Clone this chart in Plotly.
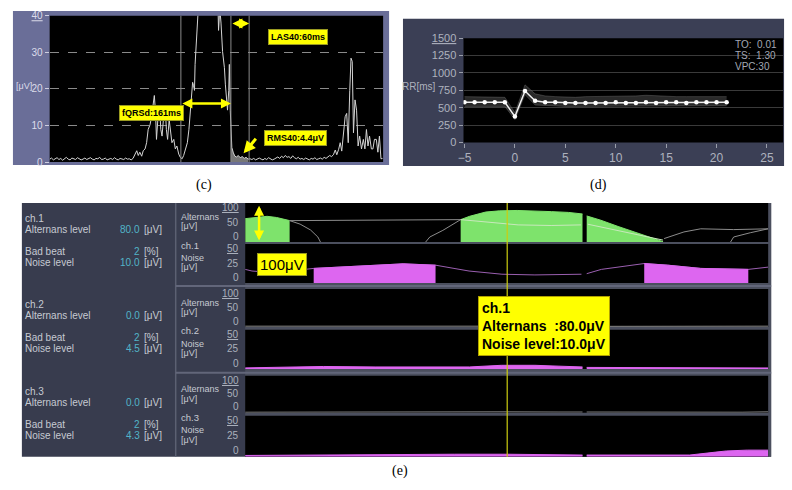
import plotly.graph_objects as go

W, H = 792, 490
def fx(p): return p / W
def fy(p): return 1 - p / H

# ---------------- (c) signal-averaged ECG vector magnitude ----------------
base1_ms = list(range(0, 271, 6))
base1_uv = [0.8,1.1,0.6,0.9,1.2,0.7,1.0,0.5,0.9,1.3,0.8,0.6,1.1,0.9,0.7,1.2,1.0,0.6,0.8,1.1,0.7,0.9,1.2,0.8,0.6,
            1.0,0.9,1.3,0.7,0.8,1.1,0.6,0.9,1.0,0.7,1.2,0.8,0.6,1.0,0.9,0.7,1.1,0.8,0.9,0.6,1.0]
qrs_ms = [276,282,287,292,298,303,309,314,319,325,330,335,339,343,346,351,356,360,364,370,374,378,382,387,391,396,
          402,407,412,418,423,429,434,439,446,451,455,460,463,466,469,471,474,476,485,501,517,534,544,547,551,555,
          560,566,569,573,576,580,582,585,587,590,595,600,605,611,617,624,630,636,643,649]
qrs_uv = [2.2,3.1,1.8,2.7,1.6,3.1,3.6,5.3,8.9,10.2,12.4,16.0,18.2,13.3,6.2,12.4,15.1,8.9,7.1,13.3,15.6,8.9,6.2,11.6,
          8.9,5.3,6.2,3.6,4.4,2.2,1.3,0.9,1.8,3.1,5.3,8.9,14.2,20.4,21.8,20.9,19.6,26.7,34.7,41,60,85,95,80,50,36,
          42,38,30.2,25.8,21.3,17.8,14.2,19.6,26.7,14,8,4,2.5,1.6,1.4,1.8,1.2,1.5,1.0,1.3,0.8,0.9]
base2_ms = list(range(655, 914, 6))
base2_uv = [0.7,1.0,0.6,0.9,1.1,0.8,0.6,1.0,0.7,1.2,0.9,0.6,0.8,1.1,1.4,1.0,1.6,1.2,1.8,1.3,1.5,1.0,1.7,1.2,0.9,
            1.3,0.8,1.0,0.7,1.1,0.9,0.6,1.0,0.8,1.2,0.7,0.9,1.1,0.8,1.3,1.0,1.4,1.8,1.5]
tail_ms = [919,925,930,936,941,946,951,957,962,967,972,976,980,984,989,994,999,1004,1010,1016,1021,1026,1031,1036,
           1042,1047,1052,1058,1063,1068,1073,1078]
tail_uv = [2.0,3.3,2.0,3.5,5.3,3.0,8.0,12.4,13.3,5.3,19.6,28.4,27.5,8.0,17.0,14.2,4.4,7.1,3.6,6.2,3.6,8.9,4.4,7.1,
           3.6,3.6,6.2,6.2,2.7,7.1,0.9,1.0]
ecg_ms = base1_ms + qrs_ms + base2_ms + tail_ms
ecg_uv = base1_uv + qrs_uv + base2_uv + tail_uv
qrs_on_ms, qrs_off_ms, las_start_ms = 425, 587, 646
c_yticks = [0, 10, 20, 30, 40]

# ---------------- (d) heart-rate turbulence RR ----------------
rr_beat = list(range(-5, 22))
rr_ms = [580,580,580,580,580,375,740,600,580,580,570,570,570,570,570,580,570,570,580,570,580,580,570,580,580,580,580]
rr_hi = [660,660,660,660,650,430,830,700,670,660,650,650,660,660,660,670,660,670,680,670,670,660,660,660,660,660,660]
rr_lo = [520,520,520,520,520,330,690,540,530,520,520,520,520,520,520,520,520,520,520,520,520,520,520,520,520,520,530]
d_xticks = [-5, 0, 5, 10, 15, 20, 25]
d_yticks = [0, 250, 500, 750, 1000, 1250, 1500]
hrt_text = ["TO:  0.01", "TS:  1.30", "VPC:30"]

# ---------------- (e) T-wave alternans trend ----------------
channels = ["ch.1", "ch.2", "ch.3"]
alt_levels = ["80.0", "0.0", "0.0"]
bad_beats = ["2", "2", "2"]
noise_levels = ["10.0", "4.5", "4.3"]
cursor_t = 50.1
marker_t = 2.66

ch1_alt_fill_t = [0, 2, 4.2, 6, 8.5, None, 41.2, 42.9, 46, 48.6, 52, 55.4, 58.6, 61.8, 64.5, None,
                  65.3, 68, 71.3, 74.4, 77, 79.9]
ch1_alt_fill_v = [60, 63, 66, 63, 55, None, 57.5, 66, 77, 80, 81, 80, 78, 76, 72, None,
                  67, 56, 40, 26, 14, 1]
ch1_alt_flat_t = [8.5, 15, 20, 25, 30, 35, 41.2]
ch1_alt_flat_v = [55, 55.5, 56, 56.5, 57, 57.3, 57.5]
ch1_alt_desc_t = [8.5, 10.5, 12.5, 13.9, 14.4]
ch1_alt_desc_v = [55, 46, 31, 13, 0]
ch1_alt_rise_t = [34.5, 35.3, 37.8, 41.2]
ch1_alt_rise_v = [0, 13, 30, 57.5]
ch1_alt_in_t = [41.2, 46, 52.2, 58.5, 64.2, None, 65.5, 71.3, 79.9]
ch1_alt_in_v = [57.5, 51, 44, 42.5, 44, None, 45.8, 30, 5]
ch1_alt_after_t = [80.1, 83.9, 87.1, 93.4, 100]
ch1_alt_after_v = [9, 26, 34, 32, 34]
ch1_alt_after2_t = [92.8, 93.4, 96.6, 100]
ch1_alt_after2_v = [0, 13, 24, 34]

ch1_noise_t = [0, 1.3, 4, 8, 13.1, 17.5, 23.9, 30.2, 36.4, 42.8, 49.1, 55.4, 64.3, None, 65.3, 68.1, 76.3, 80.8,
               87.1, 96.2, 100]
ch1_noise_v = [17.5, 15.4, 14, 15, 18.75, 20.4, 22.5, 24.6, 22.9, 15.4, 11.3, 10.4, 11.3, None, 12, 17.5, 25, 22.9,
               18.75, 17.5, 20.4]
ch1_noise_fill_t = [13.1, 17.5, 23.9, 30.2, 36.4, None, 76.3, 80.8, 87.1, 96.2]
ch1_noise_fill_v = [18.75, 20.4, 22.5, 24.6, 22.9, None, 25, 22.9, 18.75, 17.5]

ch2_alt_t = [0, 10, 20, 30, 40, 50, 60, 64.5, None, 65.3, 75, 85, 100]
ch2_alt_v = [2, 2, 2, 2.5, 2, 2.5, 2, 2, None, 1.5, 1.5, 1, 2]
ch2_noise_t = [0, 9.3, 15, 25, 35, 42.9, 49, 55.4, 60, 64.5, None, 65.3, 75, 85, 100]
ch2_noise_v = [1.3, 2.5, 3.1, 2.5, 2.5, 2.5, 4.6, 4.6, 3.5, 2.5, None, 1.9, 1.5, 1.3, 1.2]
ch3_alt_t = [0, 10, 20, 25, 30, 40, 50, 60, 64.5, None, 65.3, 75, 85, 95, 100]
ch3_alt_v = [1.5, 2, 3, 2, 1.5, 2, 2.5, 2, 2, None, 2, 1.5, 1, 1.5, 2.5]
ch3_noise_t = [0, 10, 20, 30, 40, 50, 55, 60, 64.5, None, 65.3, 75, 85, 90, 92, 96, 100]
ch3_noise_v = [1.5, 2, 2, 2.5, 3, 3, 2.5, 2.5, 2, None, 2, 2, 2, 5.6, 7, 8, 8]

alt_ticks = [0, 50, 100]
noise_ticks = [0, 25, 50]

# ---------------- styling ----------------
APP_FONT = "Liberation Sans Narrow, Liberation Sans, sans-serif"
BOX_FONT = "Liberation Sans, Arial, sans-serif"
YEL = "#ffff00"
GREEN = "#7ee36c"
MAG = "#dd66f0"
LINE_GRAY = "#8c8c8c"
TXT = "#c6cad2"
TEAL = "#52b4c8"

def segments(xs, ys):
    segs, cx, cy = [], [], []
    for x, y in zip(xs, ys):
        if y is None:
            if cx:
                segs.append((cx, cy))
            cx, cy = [], []
        else:
            cx.append(x); cy.append(y)
    if cx:
        segs.append((cx, cy))
    return segs

fig = go.Figure()

# (c) traces
rms_t = [t for t in ecg_ms if qrs_off_ms <= t <= las_start_ms]
rms_v = [v for t, v in zip(ecg_ms, ecg_uv) if qrs_off_ms <= t <= las_start_ms]
fig.add_trace(go.Scatter(x=rms_t, y=rms_v, mode="lines", fill="tozeroy", fillcolor="#777777",
                         line=dict(color="#777777", width=0), xaxis="x", yaxis="y"))
fig.add_trace(go.Scatter(x=ecg_ms, y=ecg_uv, mode="lines", line=dict(color="#d4d4d4", width=1),
                         xaxis="x", yaxis="y"))

# (d) traces
fig.add_trace(go.Scatter(x=rr_beat, y=rr_hi, mode="lines", line=dict(color="rgba(120,120,120,0.5)", width=0.8),
                         xaxis="x2", yaxis="y2"))
fig.add_trace(go.Scatter(x=rr_beat, y=rr_lo, mode="lines", line=dict(color="rgba(120,120,120,0.5)", width=0.8),
                         fill="tonexty", fillcolor="rgba(90,90,90,0.45)", xaxis="x2", yaxis="y2"))
fig.add_trace(go.Scatter(x=rr_beat, y=rr_ms, mode="lines+markers", line=dict(color="#f0f0f0", width=1.5),
                         marker=dict(color="white", size=4.5), xaxis="x2", yaxis="y2"))

# (e) traces
rows = [("x3", "y3"), ("x4", "y4"), ("x5", "y5"), ("x6", "y6"), ("x7", "y7"), ("x8", "y8")]
def add_fill(xs, ys, color, ax):
    for sx, sy in segments(xs, ys):
        fig.add_trace(go.Scatter(x=sx, y=sy, mode="lines", fill="tozeroy", fillcolor=color,
                                 line=dict(color=color, width=1), xaxis=ax[0], yaxis=ax[1]))
def add_line(xs, ys, color, ax, w=1):
    fig.add_trace(go.Scatter(x=xs, y=ys, mode="lines", line=dict(color=color, width=w),
                             connectgaps=False, xaxis=ax[0], yaxis=ax[1]))

add_fill(ch1_alt_fill_t, ch1_alt_fill_v, GREEN, rows[0])
add_line(ch1_alt_flat_t, ch1_alt_flat_v, LINE_GRAY, rows[0])
add_line(ch1_alt_desc_t, ch1_alt_desc_v, LINE_GRAY, rows[0])
add_line(ch1_alt_rise_t, ch1_alt_rise_v, LINE_GRAY, rows[0])
add_line(ch1_alt_in_t, ch1_alt_in_v, "#c8e8bc", rows[0])
add_line(ch1_alt_after_t, ch1_alt_after_v, LINE_GRAY, rows[0])
add_line(ch1_alt_after2_t, ch1_alt_after2_v, LINE_GRAY, rows[0])
add_line(ch1_noise_t, ch1_noise_v, "#9a5fb0", rows[1])
add_fill(ch1_noise_fill_t, ch1_noise_fill_v, MAG, rows[1])
add_line(ch2_alt_t, ch2_alt_v, LINE_GRAY, rows[2])
add_fill(ch2_noise_t, ch2_noise_v, MAG, rows[3])
add_line(ch3_alt_t, ch3_alt_v, LINE_GRAY, rows[4])
add_fill(ch3_noise_t, ch3_noise_v, MAG, rows[5])

# ---------------- layout ----------------
shapes = []
def rect(x0, y0, x1, y1, color):
    shapes.append(dict(type="rect", xref="paper", yref="paper", x0=fx(x0), x1=fx(x1), y0=fy(y1), y1=fy(y0),
                       fillcolor=color, line=dict(width=0), layer="below"))
def pline(x0, y0, x1, y1, color, w=1):
    shapes.append(dict(type="line", xref="paper", yref="paper", x0=fx(x0), x1=fx(x1), y0=fy(y0), y1=fy(y1),
                       line=dict(color=color, width=w), layer="below"))

# panel backgrounds
rect(7, 5, 386, 163, "#6a6e98")
rect(400, 13, 784, 164, "#3b3f55")
rect(16, 202, 771, 462, "#383c4e")
rect(241, 202, 771, 462, "#4b4f5e")

c_dom = (44, 10, 380, 160)
d_dom = (461, 33, 783, 140)
e_rows_px = [(202, 242), (244, 284), (290, 329), (332, 372), (379, 417), (420, 462)]
e_x = (241, 768)
rect(*c_dom, "black")
rect(*d_dom, "black")
for top, bot in e_rows_px:
    rect(e_x[0], top, e_x[1], bot, "black")
pline(171, 202, 171, 462, "#5c6072", 1.5)
pline(171, 287, 771, 287, "#62667a", 2)
pline(171, 376, 771, 376, "#62667a", 2)

# (c) QRS markers
for m in [qrs_on_ms, qrs_off_ms, las_start_ms]:
    shapes.append(dict(type="line", xref="x", yref="y domain", x0=m, x1=m, y0=0, y1=1,
                       line=dict(color="#8a8a8a", width=1), layer="above"))
# (e) cursor
shapes.append(dict(type="line", xref="x3", yref="paper", x0=cursor_t, x1=cursor_t, y0=fy(462), y1=fy(202),
                   line=dict(color="#cccc10", width=1.2), layer="above"))

layout = dict(
    width=W, height=H, margin=dict(l=0, r=0, t=0, b=0), paper_bgcolor="white",
    plot_bgcolor="rgba(0,0,0,0)", showlegend=False, shapes=shapes,
    xaxis=dict(domain=[fx(c_dom[0]), fx(c_dom[2])], range=[0, 1080], visible=False, anchor="y"),
    yaxis=dict(domain=[fy(c_dom[3]), fy(c_dom[1])], range=[0, 40], anchor="x", tickvals=c_yticks,
               ticktext=[str(v) if v != 40 else "<u>40</u>" for v in c_yticks],
               ticks="outside", ticklen=4, tickcolor="#cfcfe0", tickfont=dict(size=10, color="#dcdcea", family=APP_FONT),
               showgrid=True, gridcolor="#8a8a8a", griddash="dash", gridwidth=1, zeroline=False, showline=False),
    xaxis2=dict(domain=[fx(d_dom[0]), fx(d_dom[2])], range=[-5.1, 26.6], anchor="y2", tickvals=d_xticks,
                ticks="outside", ticklen=4, tickcolor="#9a9eaa", tickfont=dict(size=12, color="#aeb2be", family=APP_FONT),
                showgrid=False, zeroline=False, showline=False),
    yaxis2=dict(domain=[fy(d_dom[3]), fy(d_dom[1])], range=[0, 1500], anchor="x2", tickvals=d_yticks,
                ticktext=[str(v) if v != 1500 else "<u>1500</u>" for v in d_yticks],
                ticks="outside", ticklen=4, tickcolor="#9a9eaa", tickfont=dict(size=11, color="#aeb2be", family=APP_FONT),
                showgrid=True, gridcolor="#3a3a3a", gridwidth=1, zeroline=False, showline=False),
)

ann = []
def text(x, y, s, size=10, color=TXT, xanchor="left", font=APP_FONT, **kw):
    ann.append(dict(xref="paper", yref="paper", x=fx(x), y=fy(y), text=s, showarrow=False, xanchor=xanchor,
                    yanchor="middle", font=dict(size=size, color=color, family=font), **kw))
def box(x, y, s, size=9, bold=True, **kw):
    ann.append(dict(xref="paper", yref="paper", x=fx(x), y=fy(y), text=("<b>%s</b>" % s) if bold else s,
                    showarrow=False, bgcolor=YEL, bordercolor="#9a9a20", borderwidth=1, borderpad=2,
                    font=dict(size=size, color="black", family=BOX_FONT), **kw))

for i, ((xa, ya), (top, bot)) in enumerate(zip(rows, e_rows_px)):
    n = xa[1:]
    is_alt = i % 2 == 0
    ticks = alt_ticks if is_alt else noise_ticks
    topv = ticks[-1]
    layout["xaxis" + n] = dict(domain=[fx(e_x[0]), fx(e_x[1])], range=[0, 100], visible=False, anchor=ya)
    layout["yaxis" + n] = dict(domain=[fy(bot), fy(top)], range=[0, topv], anchor=xa,
                              showticklabels=False, ticks="", showgrid=False, zeroline=False, showline=False)
    # scale labels sit slightly inside the strip, as on the device screen
    for v in ticks:
        ypx = top + 5 + (1 - v / topv) * (bot - top - 11)
        text(237, ypx, ("<u>%d</u>" % v) if v == topv else str(v), size=10, color="#aab0bc", xanchor="right")

# (c) annotations
text(18, 82, "[μV]", size=9, color="#dcdcea", xanchor="center")
box(294, 24, "LAS40:60ms")
box(114, 101, "fQRSd:161ms")
box(292, 127, "RMS40:4.4μV")
ann.append(dict(xref="x", yref="y", axref="x", ayref="y", x=qrs_off_ms, y=16, ax=qrs_on_ms, ay=16, text="",
                showarrow=True, arrowhead=2, arrowside="end+start", arrowsize=0.8, arrowwidth=2.5, arrowcolor=YEL))
ann.append(dict(xref="x", yref="y", axref="x", ayref="y", x=las_start_ms, y=37.9, ax=qrs_off_ms, ay=37.9, text="",
                showarrow=True, arrowhead=2, arrowside="end+start", arrowsize=0.8, arrowwidth=2.5, arrowcolor=YEL))
ann.append(dict(xref="x", yref="y", axref="x", ayref="y", x=628, y=2.4, ax=672, ay=6.8, text="",
                showarrow=True, arrowhead=2, arrowsize=0.8, arrowwidth=3, arrowcolor=YEL))
# (d) annotations
text(416, 83, "RR[ms]", size=10, color="#aeb2be", xanchor="center")
for j, s in enumerate(hrt_text):
    text(733, 39.5 + 11.5 * j, s, size=10, color="#a4a8b4")
# (e) annotations
for k, A in enumerate([202, 290, 379]):
    text(17, A + 16, channels[k])
    text(17, A + 27, "Alternans level")
    text(137, A + 27, alt_levels[k], color=TEAL, xanchor="right")
    text(137, A + 27, "[μV]")
    text(17, A + 50, "Bad beat")
    text(137, A + 50, bad_beats[k], color=TEAL, xanchor="right")
    text(137, A + 50, "[%]")
    text(17, A + 61, "Noise level")
    text(137, A + 61, noise_levels[k], color=TEAL, xanchor="right")
    text(137, A + 61, "[μV]")
    text(174, A + 14, "Alternans", size=9)
    text(174, A + 24, "[μV]", size=9)
    text(174, A + 43, channels[k], size=9.5)
    text(174, A + 56, "Noise", size=9)
    text(174, A + 66, "[μV]", size=9)
ann.append(dict(xref="x3", yref="y3", axref="x3", ayref="y3", x=marker_t, y=4, ax=marker_t, ay=97, text="",
                showarrow=True, arrowhead=2, arrowside="end+start", arrowsize=0.8, arrowwidth=2.5, arrowcolor=YEL))
box(278, 265.5, "100μV", size=15, bold=False)
ann.append(dict(xref="paper", yref="paper", x=fx(476), y=fy(297), xanchor="left", yanchor="top", align="left",
                text="<b>ch.1<br>Alternans\u00a0\u00a0:80.0μV<br>Noise level:10.0μV</b>", showarrow=False,
                bgcolor=YEL, bordercolor="#b0a000", borderwidth=1, borderpad=3,
                font=dict(size=14, color="black", family=BOX_FONT)))
# captions
for cx, cy, s in [(200, 184, "(c)"), (597, 184, "(d)"), (397, 477, "(e)")]:
    text(cx, cy, s, size=14, color="black", xanchor="center", font="Liberation Serif, Times New Roman, serif")

layout["annotations"] = ann
fig.update_layout(**layout)
fig.write_html("out.html", config={"displayModeBar": False},
               post_script="document.body.style.margin='0';")
